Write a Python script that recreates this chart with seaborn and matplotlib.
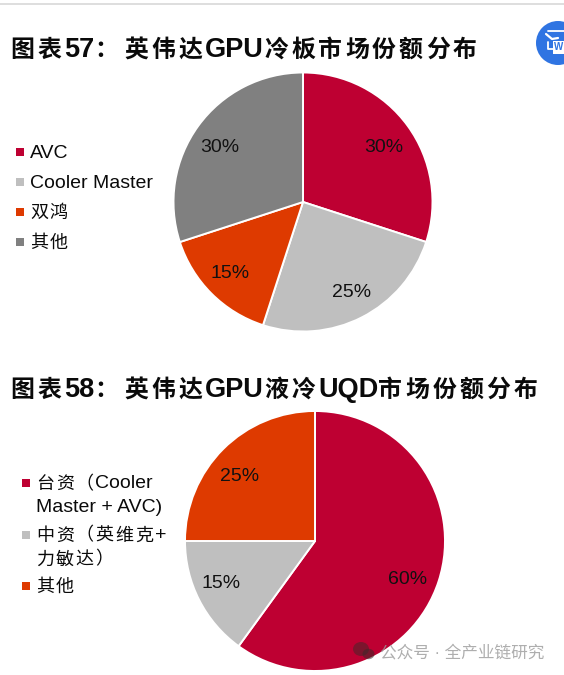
import re
import matplotlib
matplotlib.use("Agg")
import matplotlib.pyplot as plt
from matplotlib.font_manager import FontProperties
from matplotlib.patches import Circle, Ellipse, Rectangle
import seaborn as sns

# Share tables
cold_plate_labels = ["AVC", "Cooler Master", "双鸿", "其他"]
cold_plate_values = [30, 25, 15, 30]
uqd_labels = ["台资（Cooler\nMaster + AVC)", "中资（英维克+\n力敏达）", "其他"]
uqd_values = [60, 15, 25]
cold_plate_title = "图表57：英伟达GPU冷板市场份额分布"
uqd_title = "图表58：英伟达GPU液冷UQD市场份额分布"
watermark = "公众号 · 全产业链研究"
share_colors = ["#BE0032", "#BFBFBF", "#DE3A00", "#808080"]

sns.set_theme(style="white")
LATIN = "Liberation Sans"
CJK = "Noto Sans CJK SC"
plt.rcParams["font.family"] = [LATIN, CJK, "DejaVu Sans"]
palette = sns.color_palette(share_colors)

W, H = 564, 675
fig = plt.figure(figsize=(W / 100, H / 100), dpi=100, facecolor="white")
renderer = fig.canvas.get_renderer()

# Page layer in pixel units for titles, legends and the footer marks
page = fig.add_axes([0, 0, 1, 1], zorder=3)
page.set_xlim(0, W)
page.set_ylim(H, 0)
page.axis("off")
page.patch.set_alpha(0)


def tracked_text(x, y, s, cjk_pt, latin_pt, pitch, weight="normal", colon=None):
    """Set mixed text with Latin runs at natural width and CJK glyphs on a fixed pitch."""
    for run in re.findall(r"[\x00-\x7f]+|[^\x00-\x7f]", s):
        if run.isascii():
            fp = FontProperties(family=LATIN, weight=weight, size=latin_pt)
            page.text(x, y, run, fontproperties=fp, va="center", ha="left", color="#0a0a0a")
            x += renderer.get_text_width_height_descent(run, fp, False)[0]
        else:
            fp = FontProperties(family=CJK, weight=weight, size=cjk_pt)
            page.text(x, y, run, fontproperties=fp, va="center", ha="left", color="#0a0a0a")
            x += colon if (run == "：" and colon) else pitch


def draw_pie(values, cx, cy, r, nudges):
    ax = fig.add_axes([(cx - r) / W, 1 - (cy + r) / H, 2 * r / W, 2 * r / H], zorder=1)
    wedges, _, pct = ax.pie(
        values,
        colors=palette[: len(values)],
        startangle=90,
        counterclock=False,
        radius=1,
        autopct="%d%%",
        pctdistance=0.76,
        wedgeprops={"edgecolor": "white", "linewidth": 1.4},
        textprops={"fontsize": 14, "color": "#111111"},
    )
    for label, (dx, dy) in zip(pct, nudges):
        px, py = label.get_position()
        label.set_position((px + dx / r, py - dy / r))
    ax.set_xlim(-1, 1)
    ax.set_ylim(-1, 1)
    ax.set_aspect("equal")
    return wedges


def draw_legend(labels, x, y0, entry_step, line_step):
    y = y0
    for i, label in enumerate(labels):
        page.add_patch(Rectangle((x, y - 4), 8, 8, facecolor=palette[i], edgecolor="none"))
        for line in label.split("\n"):
            tracked_text(x + 14, y + 1, line, 13, 14, 19.8)
            y += line_step
        y += entry_step - line_step


draw_pie(cold_plate_values, 303, 202, 129.5, [(1, 3), (4, 3), (-3, 2), (-4, 3)])
draw_pie(uqd_values, 315, 541, 130, [(-1, 8), (-6, -2), (-6, 5)])

tracked_text(10, 50, cold_plate_title, 17.2, 19.5, 27, weight="bold", colon=30)
tracked_text(10, 390, uqd_title, 17.2, 19.5, 27, weight="bold", colon=30)

draw_legend(cold_plate_labels, 16, 152, 30, 30)
draw_legend(uqd_labels, 22, 483, 27.5, 24)

# Rule along the top edge
page.add_patch(Rectangle((0, 3), W, 2, facecolor="#DEDEDE", edgecolor="none"))

# Round badge cut off by the right edge
page.add_patch(Circle((558, 43), 22, facecolor="#2F74E2", edgecolor="none"))
page.add_patch(Rectangle((553, 41), 13, 13, facecolor="white", edgecolor="none"))
page.text(554, 47.5, "W", fontsize=7, fontweight="bold", color="#2F74E2", ha="left", va="center")
page.plot([548, 566], [31, 31], color="white", lw=1.3)
page.plot([548, 548, 553], [42, 49, 49], color="white", lw=1.3)
page.plot([546, 552, 558], [34, 39, 38], color="white", lw=1.6)

# Footer mark and caption
page.add_patch(Ellipse((361, 649), 16, 14, facecolor="#3a2a2a", edgecolor="none", alpha=0.5))
page.add_patch(Ellipse((368.5, 654), 12, 10.5, facecolor="#3a2a2a", edgecolor="none", alpha=0.55))
page.text(380, 652, watermark, fontsize=12, color="#9a9a9a", alpha=0.8, ha="left", va="center")

fig.savefig("out.png", dpi=100, facecolor="white")
